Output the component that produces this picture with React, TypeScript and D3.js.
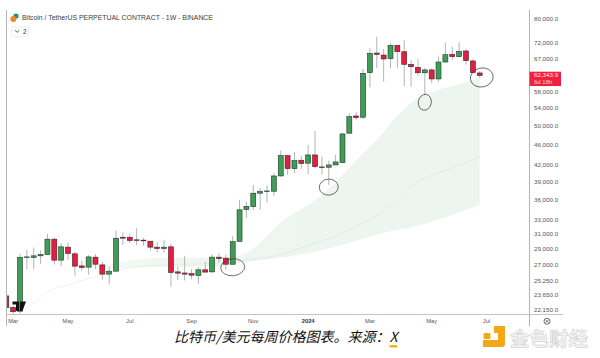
import React from "react";
import * as d3 from "d3";

const opens = [23570,22400,22030,27930,27920,28130,28290,30280,27600,29230,28380,26910,26760,27970,27030,25950,26290,30540,30540,30190,30150,30010,29230,29050,29270,26210,26080,26010,25790,26450,26210,27970,27850,27110,29980,34510,34950,37090,37350,37410,40020,43780,41340,42900,42340,43910,41650,41590,42010,42440,48330,52150,51860,63120,68840,68240,67150,71230,69240,65490,64650,63090,63900,61400,66170,68440,67740,69470,66480,63050];
const highs = [23800,22570,28370,28880,29180,28800,31000,30450,29750,29830,28640,27550,28210,28340,27430,26830,31450,31170,31080,31790,30410,30010,29880,30190,29650,26830,28130,26530,26750,27430,28340,28470,28260,30700,36010,35730,38470,37920,38470,40520,44750,43910,44450,43780,45900,48800,43590,42830,43910,48450,52770,53020,64170,70290,74000,70090,71860,71230,72930,66770,67150,64450,64360,67740,72070,70800,72200,70090,66970,63610];
const lows = [22370,21780,21780,26530,26530,27150,28260,27060,26910,27640,25760,26360,25870,26530,25310,24780,26290,29520,29750,29520,29430,28800,28550,28550,24570,25280,25230,25390,24860,26180,26060,27310,26450,27110,29980,33260,34460,34460,35580,36650,39900,40210,40520,41290,40330,41410,40210,38480,42010,42320,48330,51250,51400,59190,64360,60670,64360,64360,59530,59330,62340,57200,60240,60670,65970,66770,67740,65370,63120,61670];
const closes = [22370,21980,27940,28000,28130,28290,30280,27600,29270,28420,26880,26710,28000,27110,25950,26290,30410,30410,30090,30090,30050,29230,29050,29230,26130,26060,25950,25830,26450,26180,27970,27800,27110,29940,34460,35010,37090,37350,37460,40020,43780,41340,42830,42260,43910,41700,41520,42010,42570,48170,51990,51760,62940,68740,68440,67060,71230,69240,65490,64800,63090,63900,61400,66170,68330,67740,69310,66560,63120,62343.9];

const upperWeeks = [2,10,16,20,26,32,35,38,40,43,46,49,52,54,57,60,63,66,69];
const upperBand = [26680,26790,27270,27760,27940,27880,28500,30720,32670,34610,36810,40200,44300,46920,52150,56470,58490,60040,61670];
const lowerWeeks = [2,10,16,20,26,32,35,40,45,50,55,60,65,69];
const lowerBand = [26680,26680,26680,26790,26790,26970,27390,27880,28630,29790,31140,32110,33700,35220];
const midWeeks = [2,5,6,9,12,15,18,24,32,35,40,43,48,52,54,60,65,69];
const midLine = [21980,23370,24000,24750,25420,26100,26680,27030,27270,27640,28260,29140,30720,32530,33550,38980,41470,43540];

const priceTicks = [80000,72000,67000,58000,54000,50000,46000,42000,39000,36000,33000,31000,29000,27000,25250,23650,22150];
const timeLabels = ["Mar","May","Jul","Sep","Nov","2024","Mar","May","Jul"];
const timeWeeks = [1,9,18,27,36,44,53,62,70];

const circleWeeks = [33,47,61,69.3];
const circlePrices = [26750,38100,55400,61800];
const circleRx = [12,9.5,6.5,11.5];
const circleRy = [8.5,8,8,9.5];
const circleRot = [-5,-5,10,-12];

const lastPrice = 62343.9;
const fmt = d3.format(",.1f");
const SANS = "'Liberation Sans', Arial, sans-serif";

export default function App() {
  const x = d3.scaleLinear().domain([2, 69]).range([20, 479.7]);
  const y = d3.scaleLog().domain([22150, 80000]).range([310, 19]);
  const bodyW = 5;

  const pairs = (ws: number[], vs: number[]) => ws.map((v, i) => [v, vs[i]] as [number, number]);
  const lineGen = d3.line<[number, number]>().x((d) => x(d[0])).y((d) => y(d[1])).curve(d3.curveMonotoneX);
  const upperPts = pairs(upperWeeks, upperBand);
  const lowerPts = pairs(lowerWeeks, lowerBand);
  const upperPath = lineGen(upperPts) as string;
  const lowerPathRev = lineGen(lowerPts.slice().reverse()) as string;
  const bandPath = upperPath + "L" + lowerPathRev.slice(1) + "Z";

  return (
    <svg width={600} height={358} viewBox="0 0 600 358" style={{ position: "absolute", left: 0, top: 0, background: "#fff" }} fontFamily={SANS}>
      <defs>
        <clipPath id="plot"><rect x={7} y={10} width={522} height={304} /></clipPath>
        <linearGradient id="bandFade" gradientUnits="userSpaceOnUse" x1={20} x2={420} y1={0} y2={0}>
          <stop offset="0" stopColor="#eff6f1" stopOpacity={0.25} />
          <stop offset="0.35" stopColor="#edf5ef" stopOpacity={0.85} />
          <stop offset="1" stopColor="#edf5ef" stopOpacity={1} />
        </linearGradient>
        <linearGradient id="lineFade" gradientUnits="userSpaceOnUse" x1={20} x2={300} y1={0} y2={0}>
          <stop offset="0" stopColor="#e6eee8" />
          <stop offset="1" stopColor="#d5e2d8" />
        </linearGradient>
      </defs>
      <rect x={0} y={0} width={600} height={358} fill="#fff" />

      <g clipPath="url(#plot)">
        <path d={bandPath} fill="url(#bandFade)" stroke="none" />
        <path d={lineGen(pairs(midWeeks, midLine)) as string} fill="none" stroke="url(#lineFade)" strokeWidth={0.6} />
        {opens.map((o, i) => {
          const c = closes[i];
          const up = c >= o;
          const cx = x(i);
          const top = y(Math.max(o, c));
          const bot = y(Math.min(o, c));
          return (
            <g key={i}>
              <line x1={cx} x2={cx} y1={y(highs[i])} y2={y(lows[i])} stroke="#b4b4b4" strokeWidth={1} />
              <rect x={cx - bodyW / 2} y={top} width={bodyW} height={Math.max(bot - top, 0.6)} fill={up ? "#3f9e56" : "#e81c43"} stroke="#1d2b22" strokeWidth={0.55} />
            </g>
          );
        })}
        {circleWeeks.map((k, i) => (
          <ellipse key={i} cx={x(k)} cy={y(circlePrices[i])} rx={circleRx[i]} ry={circleRy[i]} transform={`rotate(${circleRot[i]} ${x(k)} ${y(circlePrices[i])})`} fill="none" stroke="#3a3a3a" strokeWidth={0.7} />
        ))}
      </g>

      <line x1={6.5} x2={6.5} y1={10} y2={326} stroke="#b5b5b5" strokeWidth={1} />
      <line x1={529.5} x2={529.5} y1={10} y2={326} stroke="#b5b5b5" strokeWidth={1} />
      <line x1={6.5} x2={563} y1={314.5} y2={314.5} stroke="#c4c4c4" strokeWidth={1} />

      {priceTicks.map((t) => (
        <text key={t} x={534} y={y(t) + 2.2} fontSize={6.2} fill="#555">{fmt(t)}</text>
      ))}
      {timeLabels.map((l, i) => (
        <text key={i} x={x(timeWeeks[i])} y={323} fontSize={5.8} textAnchor="middle" fill={l === "2024" ? "#333" : "#555"} fontWeight={l === "2024" ? "bold" : "normal"}>{l}</text>
      ))}

      <rect x={529.5} y={71.7} width={31.5} height={14.3} fill="#f0203f" />
      <text x={534} y={77.3} fontSize={6.2} fill="#ffe6ea">{fmt(lastPrice)}</text>
      <text x={534} y={84} fontSize={6} fill="#ffd0d8">6d 18h</text>

      <circle cx={16} cy={16} r={2.6} fill="#1f8f93" />
      <circle cx={13.4} cy={19} r={3} fill="#ee8a1c" />
      <text x={22} y={20} fontSize={6.9} fill="#3d3d3d">Bitcoin / TetherUS PERPETUAL CONTRACT - 1W - BINANCE</text>
      <rect x={11.5} y={27} width={17} height={9.5} rx={1.5} fill="#fff" stroke="#e6e6e6" strokeWidth={0.7} />
      <path d="M15 30.3 L17.2 32.3 L19.4 30.3" fill="none" stroke="#333" strokeWidth={0.8} />
      <text x={23} y={33.8} fontSize={6.5} fill="#333">2</text>

      <path d="M12.5 301.5 H19 V311 H16 V304.5 H12.5 Z M20 301.5 H26 L22.5 311 H19.8 Z" fill="#111" />

      <circle cx={547} cy={321.3} r={3} fill="none" stroke="#444" strokeWidth={0.8} />
      <path d="M545.5 319.8 L548.5 322.8 M548.5 319.8 L545.5 322.8" stroke="#444" strokeWidth={0.7} />

      <text x={174} y={342} fontSize={14} fontStyle="italic" fill="#111" fontFamily="'Noto Sans CJK SC', sans-serif">比特币/美元每周价格图表。来源：X</text>
      <rect x={389.5} y={345} width={7.5} height={2.5} fill="#f3b21f" />

      <path d="M494 326 H505 V344 Q505 347 502 347 H483 V340 H498 V333 H494 Z" fill="#f2a915" />
      <rect x={483.5} y={333} width={7} height={6} rx={1.5} fill="#f2a915" />
      <text x={510} y={346} fontSize={19.5} fill="#f4f4f4" stroke="#c8c8c8" strokeWidth={0.5} fontFamily="'Noto Sans CJK SC', sans-serif" fontWeight="bold">金色财经</text>
    </svg>
  );
}
